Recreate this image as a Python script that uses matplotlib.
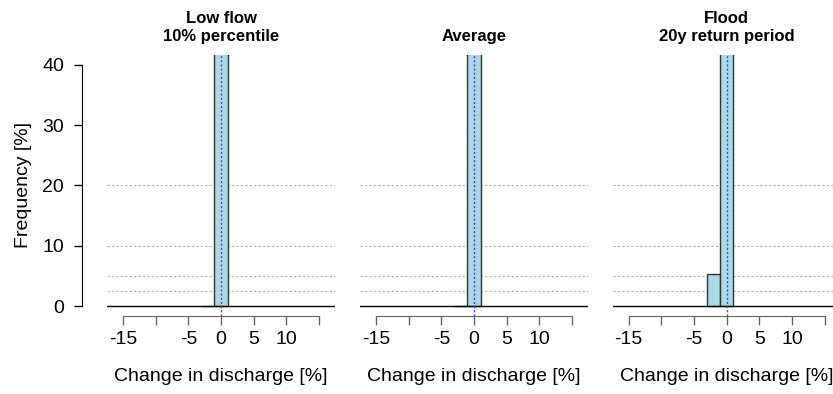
import numpy as np
import matplotlib
matplotlib.use('Agg')
import matplotlib.pyplot as plt

plt.rcParams['font.family'] = ['Liberation Sans', 'DejaVu Sans']

# histogram bins (change in discharge, %) and frequencies (%)
bin_edges = [-3, -1, 1]
low_flow = [0.0, 100.0]
average = [0.0, 100.0]
flood = [5.4, 94.6]

titles = ['Low flow\n10% percentile', 'Average', 'Flood\n20y return period']
series = [low_flow, average, flood]

x_ticks = [-15, -10, -5, 0, 5, 10, 15]
x_labels = ['-15', '', '-5', '0', '5', '10', '']
y_ticks = [0, 10, 20, 30, 40]
grid_levels = [2.5, 5, 10, 20]

W, H = 833, 394
fig = plt.figure(figsize=(W / 100, H / 100), dpi=100)

lefts = [107, 360, 612.7]
pw = 228
top, bottom = 55, 316

edges = np.array(bin_edges)
for i, (left, vals, title) in enumerate(zip(lefts, series, titles)):
    ax = fig.add_axes([left / W, 1 - bottom / H, pw / W, (bottom - top) / H])
    ax.set_xlim(-17.45, 17.45)
    ax.set_ylim(-1.6, 41.6)
    for g in grid_levels:
        ax.axhline(g, color='#b0b0b0', lw=0.8, ls=(0, (2, 2)), zorder=1)
    ax.bar(edges[:-1], vals, width=np.diff(edges), align='edge',
           color='#add8e6', edgecolor='#333333', lw=1.0, zorder=2)
    ax.axhline(0, color='black', lw=1.0, zorder=3)
    ax.axvline(0, color='#4040ff', lw=1.0, ls=(0, (1.5, 1.5)), zorder=4)

    for s in ['top', 'right', 'left']:
        ax.spines[s].set_visible(False)
    ax.spines['bottom'].set_bounds(-15, 15)
    ax.spines['bottom'].set_color('#666666')
    ax.set_xticks(x_ticks)
    ax.set_xticklabels(x_labels)
    ax.tick_params(axis='x', direction='out', length=6.5, width=1.0,
                   color='#666666', labelsize=14, pad=4)
    ax.set_xlabel('Change in discharge [%]', fontsize=14, labelpad=15)
    ax.set_title(title, fontsize=12, fontweight='bold', pad=10, linespacing=1.3)

    if i == 0:
        ax.spines['left'].set_visible(True)
        ax.spines['left'].set_position(('outward', 18))
        ax.spines['left'].set_bounds(0, 40)
        ax.set_yticks(y_ticks)
        ax.tick_params(axis='y', direction='out', length=6, width=1.0,
                       labelsize=14, pad=7)
        ax.set_ylabel('Frequency [%]', fontsize=14, labelpad=7)
    else:
        ax.set_yticks([])

fig.savefig('out.png', dpi=100)
